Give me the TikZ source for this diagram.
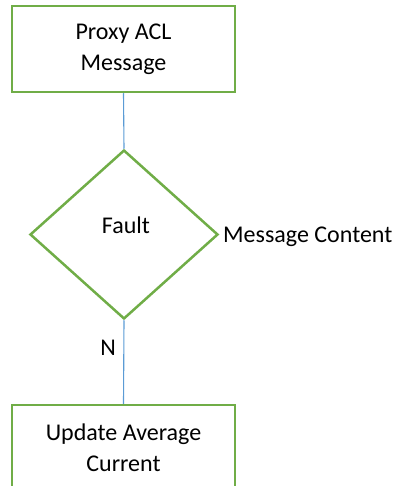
\documentclass[tikz,border=0pt]{standalone}
\usepackage{fontspec}
\setmainfont{Carlito}
\usetikzlibrary{shapes.geometric}
\definecolor{boxgreen}{RGB}{112,173,71}
\definecolor{lineblue}{RGB}{91,155,213}

\begin{document}
\begin{tikzpicture}[x=1pt, y=-1pt,
    stepbox/.style={draw=boxgreen, line width=2.5pt, minimum width=223pt, minimum height=86pt,
      inner sep=0pt, align=center, font=\fontsize{24}{31}\selectfont},
    decide/.style={diamond, draw=boxgreen, line width=2.5pt, minimum width=188pt, minimum height=169pt,
      inner sep=0pt},
    txt/.style={inner sep=0pt, font=\fontsize{24}{31}\selectfont},
    link/.style={draw=lineblue, line width=1.1pt}]
  \useasboundingbox (0,0) rectangle (393,486);

  % Boxes
  \node[stepbox] (proxy) at (123.5, 49) {Proxy ACL\\Message};
  \node[decide] (fault) at (124, 234.5) {};
  \node[stepbox] (update) at (123.5, 448) {Update Average\\Current};

  % Labels
  \node[txt] (faulttxt) at (126, 225) {Fault};
  \node[txt, anchor=west] (content) at (223, 237) {Message Content};
  \node[txt] (no) at (108, 348) {N};

  % Connectors
  \draw[link] (proxy.south) -- (fault.north);
  \draw[link] (fault.south) -- (update.north);
\end{tikzpicture}
\end{document}
